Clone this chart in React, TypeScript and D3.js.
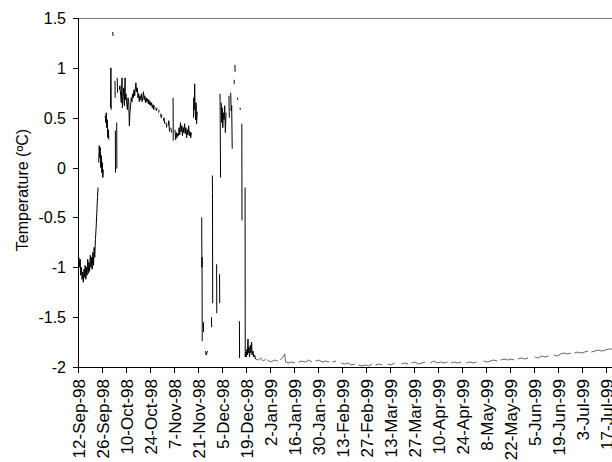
import * as d3 from "d3";

type Pt = [number, number] | null;

// days after 12-Sep-98, temperature in degC; null = gap in the record
const springAutumn: Pt[] = [
  [0, -0.9], [0.3, -1.0], [0.7, -0.92], [1.0, -1.08], [1.4, -1.0], [1.8, -1.12], [2.1, -1.05],
  [2.5, -1.15], [2.9, -1.02], [3.2, -1.1], [3.6, -0.98], [4.0, -1.12], [4.4, -1.0], [4.7, -1.08],
  [5.1, -0.92], [5.5, -1.06], [5.8, -0.95], [6.2, -1.04], [6.6, -0.88], [7.0, -1.0], [7.3, -0.9],
  [7.7, -1.02], [8.1, -0.85], [8.5, -0.98], [8.8, -0.8], [9.2, -0.9], [9.6, -0.72], [10.0, -0.6],
  [10.4, -0.45], [10.8, -0.3], [11.1, -0.2], null,
  [11.5, 0.05], [11.8, 0.22], [12.1, 0.1], [12.4, 0.2], [12.7, 0.0], [13.0, 0.12], [13.3, -0.05],
  [13.6, 0.05], [13.9, -0.1], [14.2, -0.02], null,
  [15.3, 0.52], [15.6, 0.45], [15.9, 0.55], [16.2, 0.4], [16.5, 0.48], [16.8, 0.3], [17.1, 0.38],
  [17.4, 0.28], null,
  [18.4, 0.6], [18.6, 1.0], [18.8, 0.58], null,
  [19.7, 1.36], [19.8, 1.32], null,
  [21.0, 0.87], [21.1, 0.7], null,
  [21.2, 0.37], [21.3, -0.05], null,
  [22.0, 0.45], [22.1, -0.01], null,
  [22.3, 0.9], [22.5, 0.75], null,
];

const warmPlateau: Pt[] = [
  [23.5, 0.78], [23.9, 0.82], [24.3, 0.72], [24.7, 0.65], [25.1, 0.9], [25.3, 0.6], [25.7, 0.7],
  [26.1, 0.8], [26.5, 0.62], [26.9, 0.9], [27.0, 0.68], [27.4, 0.74], [27.8, 0.65], [28.2, 0.58],
  [28.6, 0.7], [29.0, 0.66], [29.4, 0.42], [29.7, 0.55], [30.1, 0.62], [30.5, 0.7], [30.9, 0.66],
  [31.3, 0.74], [31.7, 0.7], [32.1, 0.78], [32.5, 0.72], [32.9, 0.8], [33.2, 0.85], [33.6, 0.76],
  [34.0, 0.8], [34.4, 0.7], [34.8, 0.74], [35.2, 0.66], [35.6, 0.72], [36.0, 0.68], [36.4, 0.74],
  [36.8, 0.66], [37.2, 0.7], [37.6, 0.76], [38.0, 0.68], [38.4, 0.72], [38.8, 0.65], [39.2, 0.7],
  [39.6, 0.66], [40.0, 0.69], [40.4, 0.64], [40.8, 0.68], [41.2, 0.63], [41.6, 0.66], [42.0, 0.62],
  [42.4, 0.65], [42.8, 0.6], [43.2, 0.63], [43.6, 0.58], [44.0, 0.62], null,
  [44.8, 0.6], [45.2, 0.57], [45.6, 0.6], null,
  [46.4, 0.55], [46.8, 0.58], null,
  [47.6, 0.54], [48.0, 0.5], [48.4, 0.53], null,
  [49.2, 0.47], [49.6, 0.5], [50.0, 0.44], null,
  [50.8, 0.45], [51.2, 0.4], null,
  [52.0, 0.42], [52.4, 0.47], [52.8, 0.36], null,
  [53.6, 0.4], [54.0, 0.35], null,
  [54.9, 0.7], [55.0, 0.27], null,
  [56.0, 0.38], [56.4, 0.28], [56.8, 0.35], [57.2, 0.3], [57.6, 0.34], [58.0, 0.32], [58.4, 0.4],
  [58.8, 0.33], [59.2, 0.45], [59.6, 0.36], [60.0, 0.42], [60.4, 0.32], [60.8, 0.4], [61.2, 0.35],
  [61.6, 0.44], [62.0, 0.34], [62.4, 0.4], [62.8, 0.3], [63.2, 0.38], [63.6, 0.33], [64.0, 0.42],
  [64.4, 0.32], [64.8, 0.36], [65.2, 0.3], [65.6, 0.35], null,
  [66.8, 0.5], [67.0, 0.7], [67.2, 0.58], [67.5, 0.84], [67.7, 0.62], [68.0, 0.48], [68.3, 0.65],
  [68.6, 0.44], [69.0, 0.56], null,
];

const freezeUp: Pt[] = [
  [71.6, -0.5], [71.7, -1.0], [71.8, -0.9], [71.9, -1.74], null,
  [72.6, -1.55], [72.7, -1.65], null,
  [73.8, -1.84], [74.2, -1.88], [74.6, -1.86], [75.0, -1.84], null,
  [77.3, -1.5], [77.4, -1.6], null,
  [77.8, -0.08], [77.9, -0.25], [78.0, -1.36], null,
  [80.3, -0.97], [80.4, -1.46], null,
  [82.0, -1.07], [82.1, -1.36], null,
  [82.3, 0.74], [82.4, 0.45], [82.6, -0.1], null,
  [83.0, 0.65], [83.3, 0.45], [83.6, 0.6], [83.9, 0.4], [84.2, 0.55], [84.6, 0.48], [85.0, 0.62],
  [85.4, 0.35], [85.8, 0.55], null,
  [87.5, 0.72], [87.7, 0.5], null,
  [88.5, 0.75], [88.8, 0.57], [89.1, 0.62], [89.4, 0.19], null,
  [90.5, 0.88], [90.6, 0.84], null,
  [91.0, 1.03], [91.1, 0.96], null,
  [92.5, 0.7], [92.6, 0.68], null,
  [93.6, -1.54], [93.7, -1.91], null,
  [94.0, 0.6], [94.1, 0.58], null,
  [95.0, 0.44], [95.1, -0.53], null,
  [96.9, -0.2], [97.0, -1.9], [97.2, -1.85], [97.6, -1.9], [98.0, -1.82], [98.3, -1.88],
  [98.6, -1.72], [98.8, -1.86], [99.2, -1.8], [99.5, -1.9], [100.0, -1.78], [100.3, -1.86],
  [100.7, -1.75], [101.0, -1.88], [101.5, -1.84], [102.0, -1.9], [102.5, -1.88], [103.0, -1.92],
];

const winterTail: Pt[] = [
  [103.0, -1.92], [104.5, -1.93], [106, -1.91], [107.5, -1.94], [109, -1.92], null,
  [110, -1.93], [112, -1.95], [114, -1.93], [116, -1.94], null,
  [117.5, -1.93], [119, -1.9], [120, -1.87], [120.6, -1.95], [122, -1.96], [124, -1.95], [126, -1.96], null,
  [128, -1.95], [130, -1.94], [132, -1.95], [134, -1.93], [136, -1.95], null,
  [138, -1.94], [140, -1.93], [142, -1.95], [144, -1.94], [146, -1.95], null,
  [148, -1.95], [150, -1.94], null,
  [153, -1.96], [155, -1.97], [157, -1.96], [159, -1.98], [161, -1.97], null,
  [163, -1.98], [165, -1.99], [167, -1.98], [169, -1.99], [171, -1.97], null,
  [173, -1.98], [175, -1.97], [177, -1.98], null,
  [180, -1.97], [182, -1.98], [184, -1.96], null,
  [188, -1.97], [190, -1.96], [192, -1.97], null,
  [194, -1.96], [196, -1.95], [198, -1.97], [200, -1.96], [202, -1.95], null,
  [205, -1.96], [207, -1.94], [209, -1.96], [211, -1.95], [213, -1.96], [215, -1.95], null,
  [217, -1.96], [219, -1.95], [221, -1.96], [223, -1.95], null,
  [226, -1.96], [228, -1.95], [230, -1.96], [232, -1.95], null,
  [236, -1.94], [238, -1.95], [240, -1.94], [242, -1.93], [244, -1.94], null,
  [246, -1.93], [248, -1.92], [250, -1.93], [252, -1.92], [254, -1.93], null,
  [256, -1.92], [258, -1.91], [260, -1.92], [262, -1.91], null,
  [266, -1.9], [268, -1.91], [270, -1.89], [272, -1.9], [274, -1.89], null,
  [277, -1.88], [279, -1.89], [281, -1.87], [283, -1.86], [285, -1.87], [287, -1.86], null,
  [289, -1.86], [291, -1.85], [293, -1.86], [295, -1.85], [297, -1.84], null,
  [299, -1.85], [301, -1.84], [303, -1.83], [305, -1.84], [307, -1.83], [309, -1.82], [311, -1.82],
];

const yTicks = [-2, -1.5, -1, -0.5, 0, 0.5, 1, 1.5];
const tickStepDays = 14;
const lastTickDay = 308;
const startDate = new Date(Date.UTC(1998, 8, 12));
const endDay = 311;

const width = 612;
const height = 462;
const marginLeft = 79;
const marginTop = 18;
const plotBottom = 367;

const font = "'Liberation Sans', Arial, sans-serif";
const fmt = d3.utcFormat("%-d-%b-%y");
const toDate = (d: number) => new Date(startDate.getTime() + d * 864e5);

export default function App() {
  const x = d3.scaleUtc([startDate, toDate(endDay)], [marginLeft, width]);
  const y = d3.scaleLinear([-2, 1.5], [plotBottom, marginTop]);
  const line = d3
    .line<Pt>()
    .defined((p) => p !== null)
    .x((p) => x(toDate((p as [number, number])[0])))
    .y((p) => y((p as [number, number])[1]));
  const mainRecord = [...springAutumn, ...warmPlateau, null, ...freezeUp];
  const xTicks = d3.range(0, lastTickDay + 1, tickStepDays).map(toDate);

  return (
    <svg
      width={width}
      height={height}
      style={{ position: "absolute", left: 0, top: 0, background: "#fff" }}
      fontFamily={font}
    >
      <line x1={marginLeft} x2={width} y1={marginTop + 0.5} y2={marginTop + 0.5} stroke="#777" />
      <line x1={marginLeft - 0.5} x2={marginLeft - 0.5} y1={marginTop} y2={plotBottom} stroke="#000" />
      <line x1={marginLeft} x2={width} y1={plotBottom + 0.5} y2={plotBottom + 0.5} stroke="#000" />
      <g>
        {yTicks.map((t) => (
          <g key={t} transform={`translate(0,${Math.round(y(t)) + 0.5})`}>
            <line x1={marginLeft - 6} x2={marginLeft} stroke="#000" />
            <text x={marginLeft - 13} dy="0.36em" textAnchor="end" fontSize={16}>
              {t}
            </text>
          </g>
        ))}
      </g>
      <g>
        {xTicks.map((d) => (
          <g key={d.getTime()} transform={`translate(${Math.round(x(d)) - 0.5},${plotBottom})`}>
            <line y1={0} y2={6} stroke="#000" />
            <text
              transform="translate(0,12) rotate(-90)"
              dy="0.36em"
              textAnchor="end"
              fontSize={17}
            >
              {fmt(d)}
            </text>
          </g>
        ))}
      </g>
      <text
        transform={`translate(28,190) rotate(-90)`}
        textAnchor="middle"
        fontSize={16}
      >
        Temperature (ºC)
      </text>
      <path d={line(mainRecord) ?? ""} fill="none" stroke="#000" strokeWidth={1} />
      <path d={line(winterTail) ?? ""} fill="none" stroke="#222" strokeWidth={0.7} />
    </svg>
  );
}
